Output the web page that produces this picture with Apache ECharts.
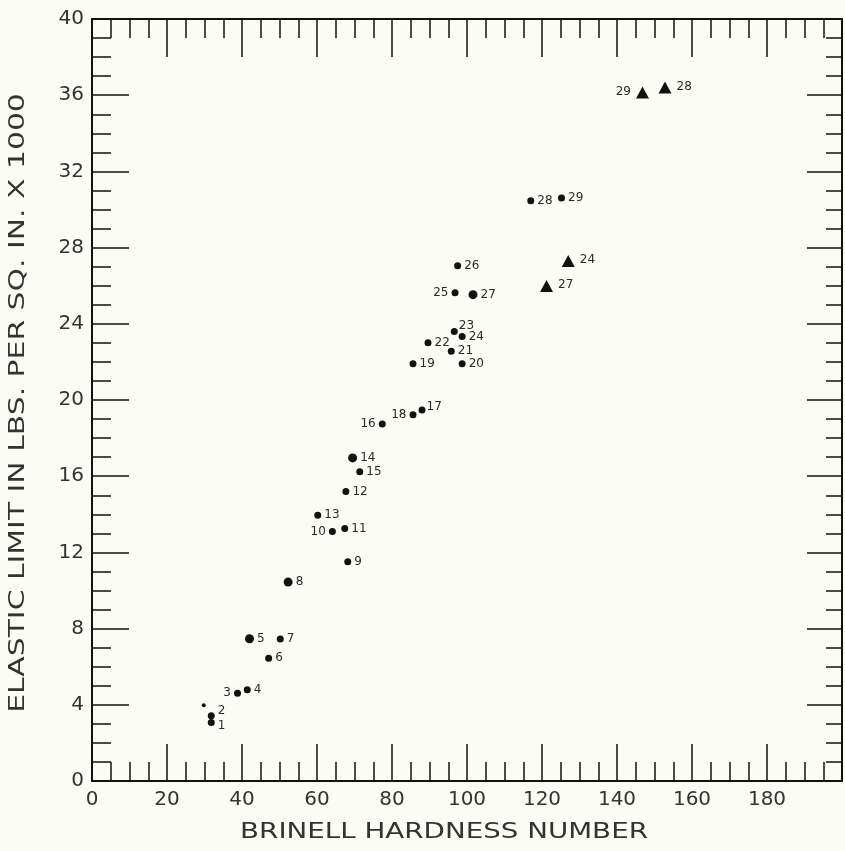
<!DOCTYPE html>
<html>
<head>
<meta charset="utf-8">
<script src="https://cdn.jsdelivr.net/npm/echarts@6/dist/echarts.min.js"></script>
<style>
html,body{margin:0;padding:0;background:#fcfcf7;}
#chart{width:845px;height:851px;}
</style>
</head>
<body>
<div id="chart"></div>
<script>
// ---- data ----
const xTitle = 'BRINELL HARDNESS NUMBER';
const yTitle = 'ELASTIC LIMIT IN LBS. PER SQ. IN. X 1000';

// circles
const circleHB = [31.8, 31.8, 38.8, 41.4, 42.0, 47.1, 50.2, 52.3, 68.2, 64.1,
                  67.4, 67.7, 60.2, 69.5, 71.4, 77.4, 88.0, 85.6, 85.6, 98.7,
                  95.8, 89.6, 96.6, 98.7, 96.8, 97.5, 101.6, 117.0, 125.2, 29.8];
const circleEL = [3.07, 3.42, 4.60, 4.79, 7.47, 6.44, 7.46, 10.44, 11.51, 13.10,
                  13.26, 15.20, 13.95, 16.96, 16.23, 18.74, 19.47, 19.23, 21.90, 21.90,
                  22.56, 23.00, 23.60, 23.33, 25.63, 27.05, 25.53, 30.46, 30.60, 3.98];
const circleNo = ['1','2','3','4','5','6','7','8','9','10',
                  '11','12','13','14','15','16','17','18','19','20',
                  '21','22','23','24','25','26','27','28','29',''];

// triangles
const triHB = [121.2, 127.0, 152.8, 146.8];
const triEL = [25.98, 27.30, 36.40, 36.14];
const triNo = ['27','24','28','29'];

// ---- styles (kept apart from data) ----
const circleLeft = ['3','10','16','18','25'];
const circleBig = ['5','8','14','27'];
const circleOffset = {'1':[0,3],'2':[0,-5],'23':[-2,-6],'17':[-2,-3]};
const triLeft = ['29'];

const ink = '#111';
const labelFont = {fontFamily:'DejaVu Sans', fontSize:12, color:'#2a2a2a'};

function circleSize(n){ if(n==='') return 4; return circleBig.indexOf(n)>=0 ? 9 : 7; }

const circleData = circleHB.map((x,i)=>{
  const n = circleNo[i];
  const left = circleLeft.indexOf(n)>=0;
  return {
    value:[x, circleEL[i]], name:n, symbolSize:circleSize(n),
    label:{show:n!=='', formatter:n, position:left?'left':'right', distance:3,
           offset:circleOffset[n]||[0,0]}
  };
});
const triData = triHB.map((x,i)=>{
  const n = triNo[i];
  const left = triLeft.indexOf(n)>=0;
  return {
    value:[x, triEL[i]], name:n,
    label:{show:true, formatter:n, position:left?'left':'right', distance:5, offset:[0,-1]}
  };
});

const axisLineStyle = {color:ink, width:2};
const tickStyle = {color:ink, width:1.5};

function xAx(pos, showLabels, majLen, minLen){
  return {
    type:'value', position:pos, min:0, max:200, interval:20,
    axisLine:{show:true, onZero:false, lineStyle:axisLineStyle},
    axisTick:{show:true, inside:true, length:majLen, lineStyle:tickStyle},
    minorTick:{show:true, splitNumber:4, length:minLen, lineStyle:tickStyle},
    splitLine:{show:false},
    axisLabel:{show:showLabels, margin:9, fontFamily:'DejaVu Sans', fontSize:20, color:'#333',
               formatter:v=>v===200?'':String(v)}
  };
}
function yAx(pos, showLabels, majLen, minLen){
  return {
    type:'value', position:pos, min:0, max:40, interval:4,
    axisLine:{show:true, onZero:false, lineStyle:axisLineStyle},
    axisTick:{show:true, inside:true, length:majLen, lineStyle:tickStyle},
    minorTick:{show:true, splitNumber:4, length:minLen, lineStyle:tickStyle},
    splitLine:{show:false},
    axisLabel:{show:showLabels, margin:8, fontFamily:'DejaVu Sans', fontSize:20, color:'#333'}
  };
}

const chart = echarts.init(document.getElementById('chart'), null, {renderer:'canvas'});
chart.setOption({
  backgroundColor:'#fcfcf7',
  animation:false,
  grid:{left:92, right:2, top:19, bottom:70, containLabel:false},
  xAxis:[xAx('bottom', true, 37, 19), xAx('top', false, 38, 19)],
  yAxis:[yAx('left', true, 37, 19), yAx('right', false, 35, 16)],
  graphic:[
    {type:'text', x:444, y:832, scaleX:1.26,
     style:{text:xTitle, font:'22px "DejaVu Sans"', fill:'#333', align:'center', verticalAlign:'middle'}},
    {type:'text', x:19, y:403, rotation:Math.PI/2, scaleX:1.42,
     style:{text:yTitle, font:'21px "DejaVu Sans"', fill:'#333', align:'center', verticalAlign:'middle'}}
  ],
  series:[
    {type:'scatter', xAxisIndex:0, yAxisIndex:0, symbol:'circle',
     itemStyle:{color:ink, opacity:1}, label:labelFont, data:circleData},
    {type:'scatter', xAxisIndex:0, yAxisIndex:0, symbol:'triangle', symbolSize:[13,12],
     itemStyle:{color:ink, opacity:1}, label:labelFont, data:triData}
  ]
});
</script>
</body>
</html>
